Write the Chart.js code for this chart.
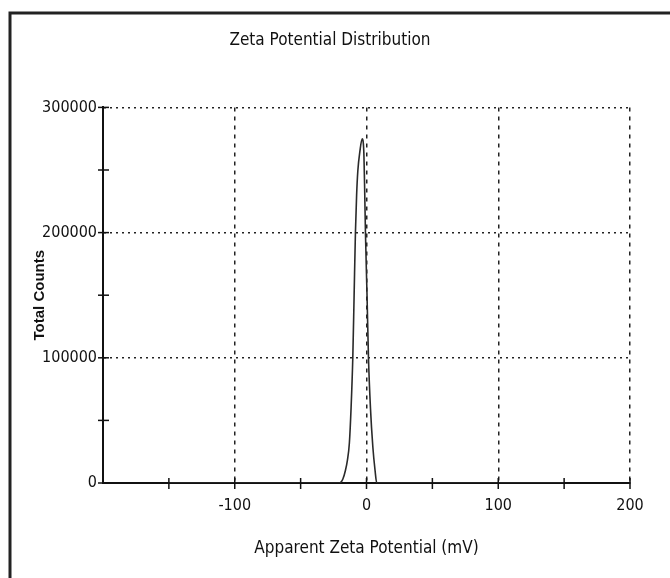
<!DOCTYPE html>
<html>
<head>
<meta charset="utf-8">
<title>Zeta Potential Distribution</title>
<script src="https://cdn.jsdelivr.net/npm/chart.js@4.4.1/dist/chart.umd.min.js"></script>
<style>
  html, body { margin: 0; padding: 0; background: #fff; }
  #wrap { width: 670px; height: 578px; }
</style>
</head>
<body>
<div id="wrap"><canvas id="canvaszeta" width="670" height="578"></canvas></div>
<script>
'use strict'

// apparent zeta potential (mV) and total counts
const ZETA_MV = [ -150, -20.5, -18.0, -16.0, -14.5, -13.0, -11.7, -10.4, -9.4, -8.4, -7.5, -6.6, -5.0, -3.3,
                  -2.1, -1.4, -0.8, 0.4, 1.5, 3.0, 4.8, 6.5, 7.8, 150 ];
const TOTAL_COUNTS = [ 0, 0, 3000, 10000, 18000, 32000, 60000, 100000, 150000, 200000, 230000, 249000, 265000, 275000,
                       266000, 235000, 200000, 150000, 100000, 60000, 29000, 10000, 0, 0 ];

const X_LABELS = [ -100, 0, 100, 200 ];
const Y_LABELS = [ 0, 100000, 200000, 300000 ];

const NARROW = "'Liberation Sans Narrow', 'DejaVu Sans Condensed', 'Arial Narrow', sans-serif";

// little tick marks that cross the axes, like the instrument software draws them
const crossTicks = {
  id: 'crossTicks',
  afterDraw( chart ){
    const ctx = chart.ctx;
    const x = chart.scales.x;
    const y = chart.scales.y;
    const area = chart.chartArea;
    ctx.save();
    ctx.strokeStyle = '#111';
    ctx.lineWidth = 1.5;
    x.ticks.forEach( t => {
      if( t.value === x.min ) return;
      const px = x.getPixelForValue( t.value );
      ctx.beginPath();
      ctx.moveTo( px, area.bottom - 5 );
      ctx.lineTo( px, area.bottom + 6 );
      ctx.stroke();
    });
    y.ticks.forEach( t => {
      const py = y.getPixelForValue( t.value );
      ctx.beginPath();
      ctx.moveTo( area.left - 5, py );
      ctx.lineTo( area.left + 6, py );
      ctx.stroke();
    });
    // frame of the screenshot, top and left only
    ctx.strokeStyle = '#222';
    ctx.lineWidth = 3;
    ctx.beginPath();
    ctx.moveTo( 10, chart.height );
    ctx.lineTo( 10, 13 );
    ctx.lineTo( chart.width, 13 );
    ctx.stroke();
    ctx.restore();
  }
};

new Chart(
  document.getElementById( 'canvaszeta' ),
  {
    type: 'line',
    data: {
      datasets: [{
        label: 'Total Counts',
        data: ZETA_MV.map( ( v, i ) => ({ x: v, y: TOTAL_COUNTS[i] }) ),
        borderColor: '#2a2a2a',
        borderWidth: 1.6,
        pointRadius: 0,
        cubicInterpolationMode: 'monotone',
        fill: false
      }]
    },
    options: {
      responsive: false,
      animation: false,
      devicePixelRatio: 1,
      layout: { padding: { left: 30, right: 40, top: 0, bottom: 0 } },
      plugins: {
        legend: { display: false },
        tooltip: { enabled: false },
        title: {
          display: true,
          text: 'Zeta Potential Distribution',
          color: '#111',
          font: { family: NARROW, size: 17, weight: 'normal' },
          padding: { top: 30, bottom: 57 }
        }
      },
      scales: {
        x: {
          type: 'linear',
          min: -200,
          max: 200,
          afterBuildTicks: scale => {
            scale.ticks = [];
            for( let v = -200; v <= 200; v += 50 ) scale.ticks.push({ value: v });
          },
          afterFit: scale => { scale.height = 95; },
          ticks: {
            color: '#111',
            font: { family: NARROW, size: 16 },
            padding: 13,
            maxRotation: 0,
            autoSkip: false,
            callback: v => X_LABELS.includes( v ) ? String( v ) : ''
          },
          grid: {
            drawTicks: false,
            lineWidth: 1.5,
            color: c => ( c.tick && X_LABELS.includes( c.tick.value ) ) ? '#222' : 'rgba(0,0,0,0)'
          },
          border: { color: '#111', width: 2, dash: [ 4, 5 ] },
          title: {
            display: true,
            text: 'Apparent Zeta Potential (mV)',
            color: '#111',
            font: { family: NARROW, size: 17 },
            padding: { top: 4, bottom: 19 }
          }
        },
        y: {
          type: 'linear',
          min: 0,
          max: 300000,
          afterBuildTicks: scale => {
            scale.ticks = [];
            for( let v = 0; v <= 300000; v += 50000 ) scale.ticks.push({ value: v });
          },
          afterFit: scale => { scale.width = 73; },
          ticks: {
            color: '#111',
            font: { family: NARROW, size: 16 },
            padding: 6,
            autoSkip: false,
            callback: v => Y_LABELS.includes( v ) ? String( v ) : ''
          },
          grid: {
            drawTicks: false,
            lineWidth: 1.5,
            color: c => ( c.tick && c.tick.value > 0 && Y_LABELS.includes( c.tick.value ) ) ? '#222' : 'rgba(0,0,0,0)'
          },
          border: { color: '#111', width: 2, dash: [ 2, 4 ] },
          title: {
            display: true,
            text: 'Total Counts',
            color: '#111',
            font: { family: "'Liberation Sans', Arial, sans-serif", size: 15, weight: 'bold' },
            padding: { top: 1, bottom: 0 }
          }
        }
      }
    },
    plugins: [ crossTicks ]
  }
);
</script>
</body>
</html>
